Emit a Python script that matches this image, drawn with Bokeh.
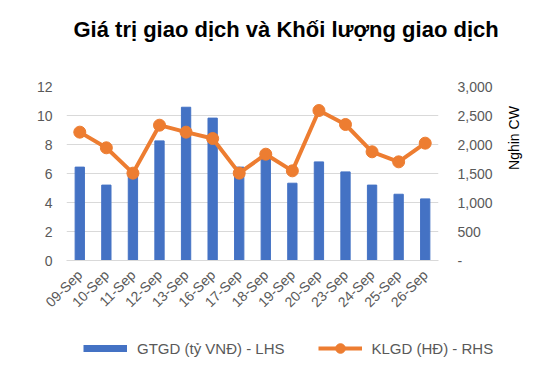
import math
from bokeh.plotting import figure
from bokeh.layouts import column, row
from bokeh.models import (Range1d, LinearAxis, FixedTicker, CustomJSTickFormatter,
                          Legend, LegendItem, ColumnDataSource, Label)
from bokeh.embed import file_html
from bokeh.resources import INLINE

dates = ["09-Sep", "10-Sep", "11-Sep", "12-Sep", "13-Sep", "16-Sep", "17-Sep",
         "18-Sep", "19-Sep", "20-Sep", "23-Sep", "24-Sep", "25-Sep", "26-Sep"]
gtgd = [6.44, 5.2, 5.9, 8.25, 10.57, 9.82, 6.44, 7.0, 5.33, 6.8, 6.11, 5.2, 4.57, 4.25]
klgd = [2213, 1943, 1506, 2333, 2213, 2103, 1506, 1833, 1546, 2586, 2345, 1874, 1701, 2023]
left_ticks = [0, 2, 4, 6, 8, 10, 12]
right_ticks = [0, 500, 1000, 1500, 2000, 2500, 3000]

xs = list(range(len(dates)))
src = ColumnDataSource(dict(x=xs, gtgd=gtgd, klgd=klgd))

FONT = "Liberation Sans"
GREY = "#595959"
BLUE = "#4472C4"
ORANGE = "#ED7D31"
NAN = float("nan")


def blank(w, h):
    f = figure(width=w, height=h, output_backend="svg", toolbar_location=None,
               x_range=Range1d(0, w), y_range=Range1d(0, h),
               x_axis_location=None, y_axis_location=None,
               min_border=0, min_border_left=0, min_border_right=0,
               min_border_top=0, min_border_bottom=0)
    f.outline_line_color = None
    f.grid.visible = False
    return f


# ---- title strip ----
TW, TH = 535, 50
tfig = blank(TW, TH)
tfig.add_layout(Label(x=73, y=TH - 29, text="Giá trị giao dịch và Khối lượng giao dịch",
                      text_font=FONT, text_font_size="22px", text_font_style="bold",
                      text_color="black", text_baseline="alphabetic", text_align="left"))

# ---- main chart ----
MW, MH = 500, 270
p = figure(width=MW, height=MH, output_backend="svg", toolbar_location=None,
           x_range=Range1d(-0.5, len(dates) - 0.5), y_range=Range1d(0, 12),
           min_border_left=66, min_border_right=MW - 438, min_border_top=36,
           min_border_bottom=60)
p.extra_y_ranges = {"r": Range1d(0, 3000)}
p.outline_line_color = None

bars = p.vbar(x="x", top="gtgd", width=0.35, source=src, color=BLUE)
line = p.line(x="x", y="klgd", source=src, y_range_name="r", color=ORANGE, line_width=4)
dots = p.scatter(x="x", y="klgd", source=src, y_range_name="r", size=12, color=ORANGE)

xa = p.xaxis[0]
xa.ticker = FixedTicker(ticks=xs)
xa.major_label_overrides = {i: d for i, d in enumerate(dates)}
xa.major_label_orientation = math.pi / 4
xa.axis_line_color = "#d9d9d9"
xa.major_tick_line_color = None
xa.minor_tick_line_color = None
xa.major_label_text_font = FONT
xa.major_label_text_font_size = "14px"
xa.major_label_text_color = GREY
xa.major_label_standoff = 6

ya = p.yaxis[0]
ya.ticker = FixedTicker(ticks=left_ticks)
ya.axis_line_color = None
ya.major_tick_line_color = None
ya.minor_tick_line_color = None
ya.major_label_text_font = FONT
ya.major_label_text_font_size = "14px"
ya.major_label_text_color = GREY
ya.major_label_standoff = 8

ra = LinearAxis(y_range_name="r", ticker=FixedTicker(ticks=right_ticks),
                formatter=CustomJSTickFormatter(code="return tick == 0 ? '-' : tick.toLocaleString('en-US');"))
ra.axis_line_color = None
ra.major_tick_line_color = None
ra.minor_tick_line_color = None
ra.major_label_text_font = FONT
ra.major_label_text_font_size = "14px"
ra.major_label_text_color = GREY
ra.major_label_standoff = 13
p.add_layout(ra, "right")

p.xgrid.grid_line_color = None
p.ygrid.ticker = FixedTicker(ticks=left_ticks)
p.ygrid.grid_line_color = "#d9d9d9"
p.ygrid.grid_line_width = 1

# ---- right axis title strip ----
RW = 35
rfig = blank(RW, MH)
rfig.add_layout(Label(x=13, y=MH - 80, text="Nghin CW", angle=math.pi / 2,
                      text_font=FONT, text_font_size="14px", text_color="black",
                      text_align="center", text_baseline="middle"))

# ---- legend strip ----
LW, LH = 535, 58
lfig = blank(LW, LH)
key_src = ColumnDataSource(dict(x=[NAN], y=[NAN]))
key_bar = lfig.line(x="x", y="y", source=key_src, color=BLUE, line_width=7)
key_line = lfig.line(x="x", y="y", source=key_src, color=ORANGE, line_width=4)
key_dot = lfig.scatter(x="x", y="y", source=key_src, color=ORANGE, size=10)
legend = Legend(items=[LegendItem(label="GTGD (tỷ VNĐ) - LHS", renderers=[key_bar]),
                       LegendItem(label="KLGD (HĐ) - RHS", renderers=[key_line, key_dot])],
                orientation="horizontal", location=(83, 18),
                glyph_width=44, glyph_height=24, label_standoff=10, spacing=33,
                padding=0, margin=0, border_line_color=None, background_fill_alpha=0,
                label_text_font=FONT, label_text_font_size="15px", label_text_color=GREY)
lfig.add_layout(legend, "center")

layout = column(tfig, row(p, rfig), lfig)
open("out.html", "w").write(file_html(layout, INLINE))
